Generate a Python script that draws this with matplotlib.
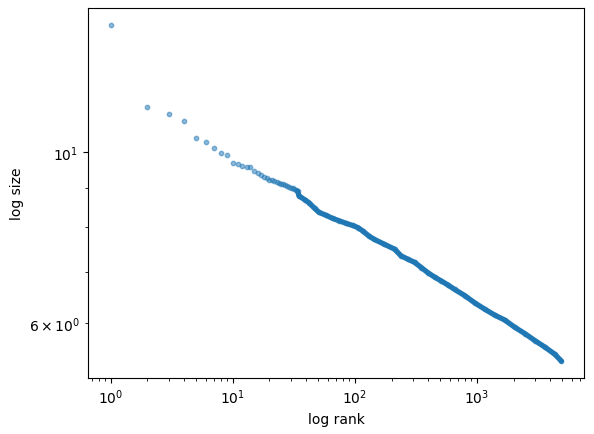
import numpy as np
import matplotlib
matplotlib.use('Agg')
import matplotlib.pyplot as plt

# pojedyncze punkty (rangi 1..34)
rank_top = list(range(1, 35))
size_top = [14.64, 11.44, 11.20, 10.97, 10.43, 10.33, 10.12, 9.97, 9.91, 9.68,
            9.65, 9.59, 9.56, 9.58, 9.47, 9.39, 9.34, 9.28, 9.27, 9.22,
            9.21, 9.17, 9.15, 9.14, 9.11, 9.10, 9.07, 9.05, 9.03, 9.00,
            8.98, 8.96, 8.93, 8.91]

# gęsta część (pasek) - wartości odczytane w wybranych rangach
rank_tail = [35, 39, 42, 47, 51, 58, 66, 75, 85, 96,
             106, 116, 132, 145, 175, 212, 240, 272, 309, 351,
             398, 451, 512, 580, 659, 796, 961, 1161, 1403, 1695,
             2048, 2474, 2988, 3610, 4361, 4930]
size_tail = [8.78, 8.68, 8.61, 8.46, 8.36, 8.29, 8.21, 8.15, 8.09, 8.04,
             7.99, 7.91, 7.78, 7.71, 7.60, 7.49, 7.34, 7.27, 7.20, 7.09,
             6.98, 6.89, 6.81, 6.73, 6.64, 6.52, 6.38, 6.26, 6.15, 6.06,
             5.93, 5.82, 5.70, 5.59, 5.47, 5.36]

rank = np.array(rank_top + rank_tail)
size = np.array(size_top + size_tail)

fig = plt.figure(figsize=(5.94, 4.35), dpi=100)
ax = fig.add_axes([88 / 594, 56 / 435, 496 / 594, 370 / 435])

# pasek gęsto nakładających się punktów
n0 = len(rank_top) - 1
ax.plot(rank[n0:], size[n0:], color='#1f77b4', lw=3.8,
        solid_capstyle='round', solid_joinstyle='round')
ax.scatter(rank, size, s=10, alpha=0.5, color='#1f77b4')

ax.set_xscale('log')
ax.set_yscale('log')
ax.set_xlabel('log rank')
ax.set_ylabel('log size')

fig.savefig('out.png', dpi=100)
